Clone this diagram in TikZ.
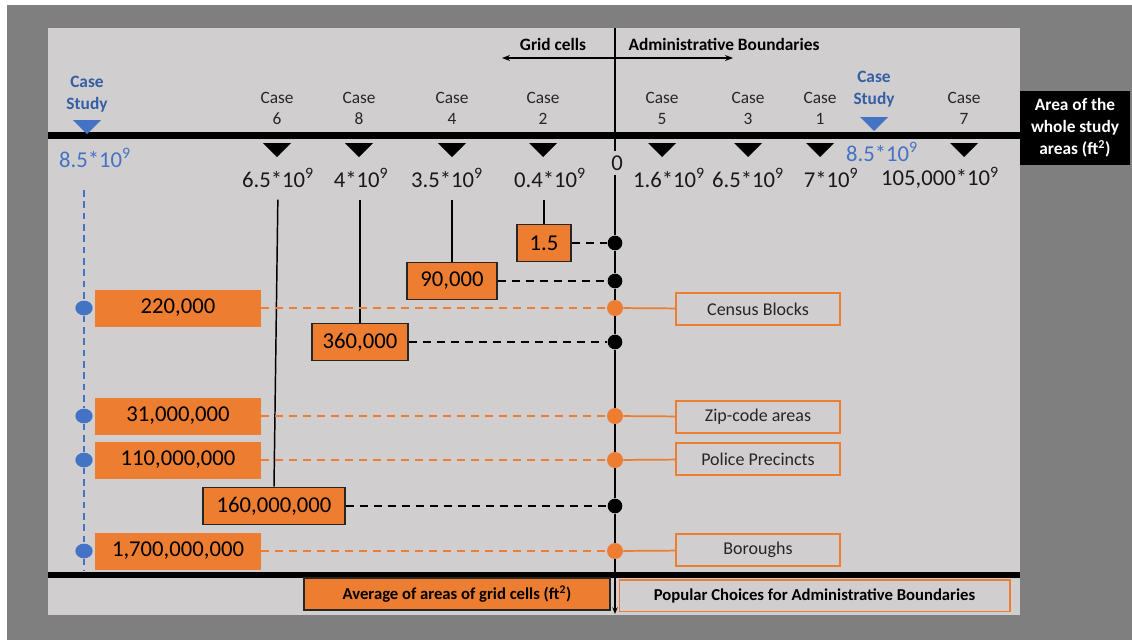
\documentclass[tikz,border=0pt]{standalone}
\usepackage{fontspec}
\setmainfont{Carlito}
\usepackage{xcolor}
\usetikzlibrary{positioning,arrows.meta,shapes.geometric}
\definecolor{orangevif}{RGB}{237,125,49}
\definecolor{bleucas}{RGB}{68,114,196}
\definecolor{bleutexte}{RGB}{52,94,166}
\definecolor{grispanneau}{RGB}{208,206,206}
\definecolor{grisfond}{RGB}{127,127,127}
\tikzset{
  cas/.style={align=center, text=black!85, inner sep=1pt,
    font=\fontsize{13}{15.75}\selectfont},
  casetude/.style={align=center, text=bleutexte, inner sep=1pt,
    font=\bfseries\fontsize{13}{16.5}\selectfont},
  valeur/.style={inner sep=1pt, text=black!90, font=\fontsize{17}{20}\selectfont},
  boitegrille/.style={draw=black!85, fill=orangevif, line width=0.9pt,
    minimum height=28pt, inner sep=0pt, font=\fontsize{17}{20}\selectfont},
  boiteadmin/.style={fill=orangevif, minimum width=124.5pt, minimum height=27.75pt,
    inner sep=0pt, font=\fontsize{17}{20}\selectfont},
  choix/.style={draw=orangevif, line width=0.9pt, minimum width=123pt,
    minimum height=24pt, inner sep=0pt, text=black!85, font=\fontsize{13.5}{16}\selectfont},
  pointnoir/.style={circle, fill=black, inner sep=0pt, minimum size=11pt},
  pointorange/.style={circle, fill=orangevif, inner sep=0pt, minimum size=12pt},
  pointbleu/.style={ellipse, fill=bleucas, inner sep=0pt, minimum width=13pt, minimum height=11pt},
  lien/.style={line width=1.1pt},
  montant/.style={line width=1.1pt, shorten <=8pt},
  tiretnoir/.style={line width=1.4pt, dash pattern=on 6pt off 4.5pt},
  tiretorange/.style={orangevif, line width=1.4pt, dash pattern=on 6pt off 4.5pt},
  lienorange/.style={orangevif, line width=1.3pt},
  tiretbleu/.style={bleucas, line width=1.2pt, dash pattern=on 5pt off 3.5pt},
  titre/.style={inner sep=1pt, font=\bfseries\fontsize{13}{16}\selectfont}
}

\begin{document}
\begin{tikzpicture}[x=0.75pt, y=-0.75pt]
  \useasboundingbox (0,0) rectangle (1132,640);
  \fill[white] (0,0) rectangle (1132,640);
  \fill[grisfond] (7,5) rectangle (1132,640);
  \fill[grispanneau] (48,28) rectangle (1020,615);

  % axes
  \draw[line width=5pt] (48,135.5) -- (1020,135.5);
  \draw[line width=4.5pt] (48,575) -- (1020,575);

  % grid cells / administrative boundaries
  \node[titre] (grille) at (553,44) {Grid cells};
  \node[titre] (admin) at (724,44) {Administrative Boundaries};
  \coordinate (fg) at (502,58);
  \coordinate (fd) at (733,58);
  \draw[line width=1pt, {Stealth[length=6pt,width=4.5pt]}-{Stealth[length=6pt,width=4.5pt]}] (fg) -- (fd);

  % case markers
  \foreach \x in {277,359,452,543,662,748,820,964}
    \fill (\x-14,143) -- (\x+14,143) -- (\x,157) -- cycle;
  \fill[bleucas] (73,120) -- (101,120) -- (87,134) -- cycle;
  \fill[bleucas] (860,117) -- (888,117) -- (874,131) -- cycle;

  \node[casetude] (csg) at (87,94) {Case\\Study};
  \node[casetude] (csd) at (874,89) {Case\\Study};
  \node[cas] (c6) at (277,108) {Case\\6};
  \node[cas] (c8) at (359,108) {Case\\8};
  \node[cas] (c4) at (452,108) {Case\\4};
  \node[cas] (c2) at (543,108) {Case\\2};
  \node[cas] (c5) at (662,108) {Case\\5};
  \node[cas] (c3) at (748,108) {Case\\3};
  \node[cas] (c1) at (820,108) {Case\\1};
  \node[cas] (c7) at (964,108) {Case\\7};

  \node[valeur, text=bleucas] (vcsg) at (95,158) {8.5*10\textsuperscript{9}};
  \node[valeur, text=bleucas] (vcsd) at (882,152) {8.5*10\textsuperscript{9}};
  \node[valeur] (v6) at (278,178) {6.5*10\textsuperscript{9}};
  \node[valeur] (v8) at (361,178) {4*10\textsuperscript{9}};
  \node[valeur] (v4) at (447,178) {3.5*10\textsuperscript{9}};
  \node[valeur] (v2) at (550,178) {0.4*10\textsuperscript{9}};
  \node[valeur] (v5) at (669,178) {1.6*10\textsuperscript{9}};
  \node[valeur] (v3) at (748,178) {6.5*10\textsuperscript{9}};
  \node[valeur] (v1) at (831,178) {7*10\textsuperscript{9}};
  \node[valeur] (v7) at (940,178) {105,000*10\textsuperscript{9}};
  \node[valeur, inner sep=3pt] (zero) at (617,163) {0};

  \node[fill=black, text=white, align=center, minimum width=82.5pt, minimum height=55pt,
        inner sep=0pt, font=\bfseries\fontsize{13}{16.5}\selectfont] (aire) at (1075,128)
        {Area of the\\whole study\\areas (ft\textsuperscript{2})};

  % grid cells
  \node[boitegrille, minimum width=40.5pt] (g15) at (544,243) {1.5};
  \node[boitegrille, minimum width=67.5pt] (g90k) at (452,281) {90,000};
  \node[boitegrille, minimum width=72pt] (g360k) at (360,342) {360,000};
  \node[boitegrille, minimum width=106.5pt] (g160m) at (274,506) {160,000,000};

  \node[pointnoir] (pg15) at (615,243) {};
  \node[pointnoir] (pg90k) at (615,281) {};
  \node[pointnoir] (pg360k) at (615,342) {};
  \node[pointnoir] (pg160m) at (615,506) {};

  % administrative boundaries
  \node[boiteadmin] (a220k) at (178,308) {220,000};
  \node[boiteadmin] (a31m) at (178,416) {31,000,000};
  \node[boiteadmin] (a110m) at (178,460) {110,000,000};
  \node[boiteadmin] (a1700m) at (178,551) {1,700,000,000};

  \node[pointorange] (pa220k) at (615,308) {};
  \node[pointorange] (pa31m) at (615,416) {};
  \node[pointorange] (pa110m) at (615,460) {};
  \node[pointorange] (pa1700m) at (615,551) {};

  \node[pointbleu] (ba220k) at (84,308) {};
  \node[pointbleu] (ba31m) at (84,416) {};
  \node[pointbleu] (ba110m) at (84,460) {};
  \node[pointbleu] (ba1700m) at (84,551) {};

  \node[choix] (census) at (758,309) {Census Blocks};
  \node[choix] (zip) at (758,417) {Zip-code areas};
  \node[choix] (police) at (758,459) {Police Precincts};
  \node[choix] (borough) at (758,550) {Boroughs};

  \node[draw=black!85, fill=orangevif, line width=0.8pt, minimum width=229.5pt,
        minimum height=24pt, inner sep=0pt, font=\bfseries\fontsize{12.5}{15}\selectfont]
        (moyenne) at (457,594) {Average of areas of grid cells (ft\textsuperscript{2})};
  \node[draw=orangevif, line width=1pt, minimum width=293pt, minimum height=23.5pt,
        inner sep=0pt, font=\bfseries\fontsize{12.5}{15}\selectfont]
        (populaire) at (814.5,595.5) {Popular Choices for Administrative Boundaries};

  % connectors
  \coordinate (haut) at (615,28);
  \coordinate (bas) at (615,614);
  \draw[lien] (haut) -- (haut |- zero.north);
  \draw[lien, -{Stealth[length=5pt,width=4pt]}] (haut |- zero.south) -- (pg15) -- (pg90k)
    -- (pa220k) -- (pg360k) -- (pa31m) -- (pa110m) -- (pg160m) -- (pa1700m) -- (bas);

  \coordinate (bleuhaut) at (84,190);
  \coordinate (bleubas) at (84,571);
  \draw[tiretbleu] (bleuhaut) -- (ba220k) -- (ba31m) -- (ba110m) -- (ba1700m) -- (bleubas);

  \draw[montant] (v6.south) -- (g160m.north);
  \draw[montant] (g360k.north |- v8.south) -- (g360k.north);
  \draw[montant] (g90k.north |- v4.south) -- (g90k.north);
  \draw[montant] (g15.north |- v2.south) -- (g15.north);

  \draw[tiretnoir] (g15) -- (pg15);
  \draw[tiretnoir] (g90k) -- (pg90k);
  \draw[tiretnoir] (g360k) -- (pg360k);
  \draw[tiretnoir] (g160m) -- (pg160m);

  \draw[tiretorange] (a220k) -- (pa220k);
  \draw[tiretorange] (a31m) -- (pa31m);
  \draw[tiretorange] (a110m) -- (pa110m);
  \draw[tiretorange] (a1700m) -- (pa1700m);
  \draw[lienorange] (pa220k) -- (census);
  \draw[lienorange] (pa31m) -- (zip);
  \draw[lienorange] (pa110m) -- (police);
  \draw[lienorange] (pa1700m) -- (borough);
\end{tikzpicture}
\end{document}
